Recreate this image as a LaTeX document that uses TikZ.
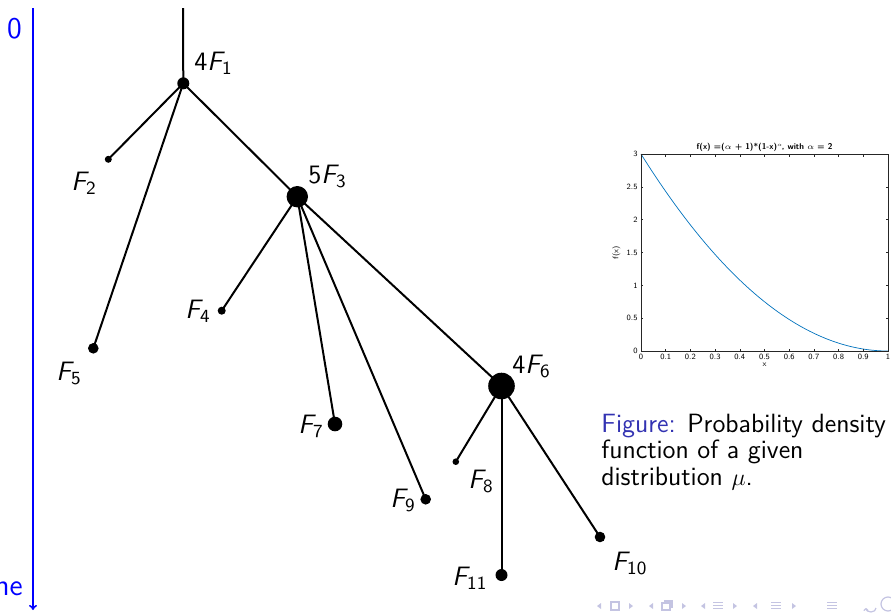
\documentclass[tikz,border=0pt]{standalone}
\usepackage{fontspec}
\usepackage{graphicx}
\usetikzlibrary{arrows.meta}
\definecolor{beamerblue}{RGB}{51,51,178}
\definecolor{navc}{RGB}{196,196,226}
\definecolor{mblue}{rgb}{0,0.447,0.741}
\definecolor{axgray}{rgb}{0.15,0.15,0.15}
\newcommand{\Flab}[2]{#1{\itshape F}\textsubscript{#2}}
\newcommand{\smalpha}{\scalebox{0.8}{$\alpha$}}
\newcommand{\tinyalpha}{\raisebox{1.3pt}{\scalebox{0.5}{$\alpha$}}}
\begin{document}
\begin{tikzpicture}[x=0.5pt,y=-0.5pt,
  dot/.style={circle,fill=black,inner sep=0pt,outer sep=0pt},
  branch/.style={line width=1pt},
  lab/.style={anchor=base west,inner sep=0pt,font=\sffamily\fontsize{13.3}{16}\selectfont},
  axlab/.style={inner sep=0pt,text=blue,font=\sffamily\fontsize{15}{18}\selectfont},
  caption/.style={anchor=base west,inner sep=0pt,font=\sffamily\fontsize{13.2}{16}\selectfont},
  tick/.style={inner sep=0pt,font=\sffamily\fontsize{4}{5}\selectfont},
  axline/.style={axgray,line width=0.3pt},
  navsym/.style={navc,line width=0.6pt}]
\useasboundingbox (0,0) rectangle (891,612);

% time axis
\coordinate (ax0) at (33,8);
\coordinate (ax1) at (33,610);
\draw[blue,line width=0.8pt,-{To[length=2.5pt,width=4pt]}] (ax0) -- (ax1);
\node[axlab,anchor=base] (zero) at (14.5,38) {0};
\node[axlab,anchor=base east] (time) at (23,595) {time};

% tree nodes
\coordinate (top) at (183,8);
\node[dot,minimum size=6pt]   (n1)  at (183.3,83.3) {};
\node[dot,minimum size=3.5pt] (n2)  at (108.3,159.3) {};
\node[dot,minimum size=10.7pt](n3)  at (297.3,196.7) {};
\node[dot,minimum size=4pt]   (n4)  at (221.7,310.7) {};
\node[dot,minimum size=5.3pt] (n5)  at (93.3,348.3) {};
\node[dot,minimum size=13.3pt](n6)  at (501.5,386) {};
\node[dot,minimum size=7.3pt] (n7)  at (335,424) {};
\node[dot,minimum size=3.3pt] (n8)  at (455.8,461.7) {};
\node[dot,minimum size=5.3pt] (n9)  at (425.7,499.3) {};
\node[dot,minimum size=5.3pt] (n10) at (600,537) {};
\node[dot,minimum size=6pt]   (n11) at (501.5,575) {};

\draw[branch] (top) -- (n1.center);
\foreach \a/\b in {n1/n2,n1/n5,n1/n3,n3/n4,n3/n7,n3/n9,n3/n6,n6/n8,n6/n11,n6/n10}
  \draw[branch] (\a.center) -- (\b.center);

% tree labels
\node[lab] (l1)  at (194,70)  {\Flab{4}{1}};
\node[lab] (l2)  at (71,190)  {\Flab{}{2}};
\node[lab] (l3)  at (308,183) {\Flab{5}{3}};
\node[lab] (l4)  at (185,318) {\Flab{}{4}};
\node[lab] (l5)  at (56,380)  {\Flab{}{5}};
\node[lab] (l6)  at (512,373) {\Flab{4}{6}};
\node[lab] (l7)  at (298,433) {\Flab{}{7}};
\node[lab] (l8)  at (468,488) {\Flab{}{8}};
\node[lab] (l9)  at (390,507) {\Flab{}{9}};
\node[lab] (l10) at (612,570) {\Flab{}{10}};
\node[lab] (l11) at (452,585) {\Flab{}{11}};

% plot
\begin{scope}[shift={(641,351)},x=123.5pt,y=32.833pt]
  \draw[mblue,line width=0.35pt,domain=0:1,samples=80] plot (\x,{3*(1-\x)^2});
  \draw[axline] (0,0) rectangle (1,3);
  \foreach \v/\t [count=\k] in {0/0,0.1/0.1,0.2/0.2,0.3/0.3,0.4/0.4,0.5/0.5,0.6/0.6,0.7/0.7,0.8/0.8,0.9/0.9,1/1} {
    \draw[axline] (\v,0) -- ++(0,0.038);
    \draw[axline] (\v,3) -- ++(0,-0.038);
    \node[tick,anchor=north] (xt\k) at ([yshift=-1.3pt]\v,0) {\t};
  }
  \foreach \v/\t [count=\k] in {0/0,0.5/0.5,1/1,1.5/1.5,2/2,2.5/2.5,3/3} {
    \draw[axline] (0,\v) -- ++(0.0101,0);
    \draw[axline] (1,\v) -- ++(-0.0101,0);
    \node[tick,anchor=east] (yt\k) at ([xshift=-1.5pt]0,\v) {\t};
  }
  \node[tick,rotate=90] (ylab) at (-0.1,1.5) {f(x)};
  \node[tick,anchor=north] (xlab) at (0.5,-0.175) {x};
  \node[tick,font=\sffamily\bfseries\fontsize{4.2}{5}\selectfont] (ttl) at (0.5,3.1)
    {f(x) =(\smalpha{} + 1)*(1-x)\tinyalpha, with \smalpha{} = 2};
\end{scope}

% caption
\node[caption] (cap1) at (601,432) {\textcolor{beamerblue}{Figure:} Probability density};
\node[caption] (cap2) at (601,458.5) {function of a given};
\node[caption] (cap3) at (601,485) {distribution $\mu$.};

% navigation symbols
\foreach \l/\m/\r/\kind in {599/615/631/1,651/667/684/2,703/718/735/3,755/776/794/3} {
  \fill[navc] (\l+2,603) -- (\l-2,606) -- (\l+2,609) -- cycle;
  \fill[navc] (\r-2,603) -- (\r+2,606) -- (\r-2,609) -- cycle;
  \ifnum\kind=1
    \draw[navsym] (\m-4,602) rectangle (\m+4,610);
  \else\ifnum\kind=2
    \draw[navsym] (\m-5,603) rectangle (\m+3,610);
    \draw[navsym] (\m-3,601) -- (\m+5,601) -- (\m+5,608);
  \else
    \draw[navsym] (\m-5,602.5) -- (\m+5,602.5) (\m-5,605.5) -- (\m+5,605.5) (\m-5,608.5) -- (\m+5,608.5);
  \fi\fi
}
\draw[navsym] (827,602.5) -- (837,602.5) (827,605.5) -- (837,605.5) (827,608.5) -- (837,608.5);
\draw[navsym,-{To[length=1.5pt,width=2.5pt]}] (876,608) arc (0:180:5 and 4);
\draw[navsym] (888,604) circle (3.5pt);
\end{tikzpicture}
\end{document}
